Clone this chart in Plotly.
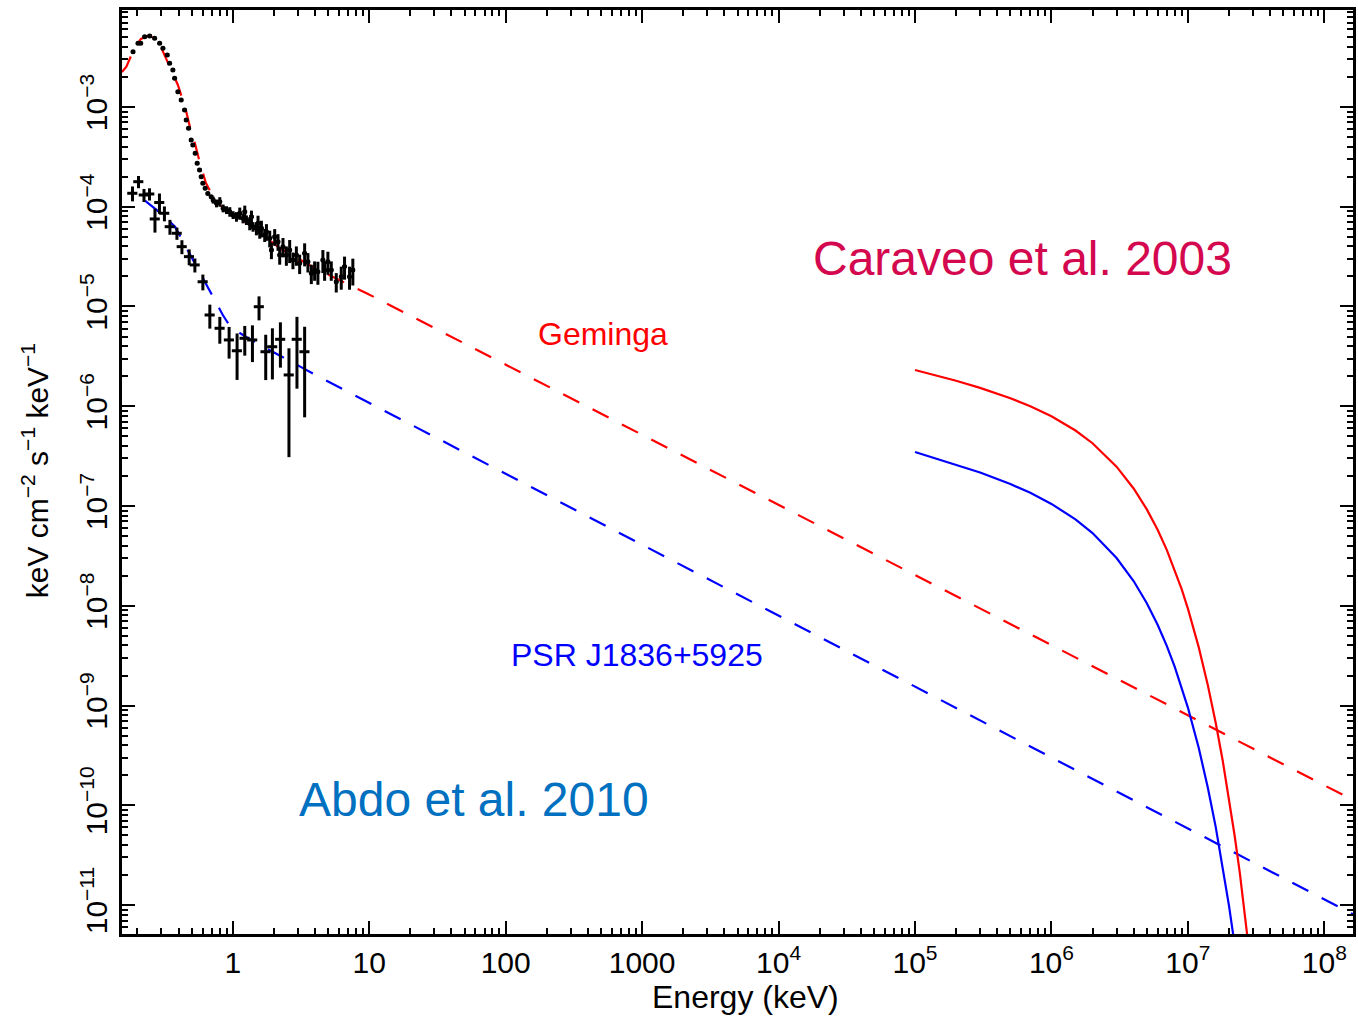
import plotly.graph_objects as go

# ---------------- data ----------------
# Geminga X-ray data points: energy (keV), flux, fractional error
gem_E = [0.1857, 0.2020, 0.2114, 0.2260, 0.2460, 0.2676, 0.2911, 0.3077, 0.3308, 0.3444,
         0.3641, 0.3748, 0.3961, 0.4185, 0.4434, 0.4556, 0.4743, 0.4955, 0.5100, 0.5301,
         0.5482, 0.5710, 0.5864, 0.6035, 0.6273, 0.6565, 0.6941,
         0.7178, 0.7600, 0.8033, 0.8494, 0.8994, 0.9508, 1.005, 1.064, 1.125, 1.189,
         1.224, 1.259, 1.331, 1.370, 1.407, 1.490, 1.531, 1.576, 1.621, 1.714,
         1.764, 1.865, 1.919, 2.028, 2.145, 2.207, 2.333, 2.470, 2.611, 2.760,
         2.923, 3.090, 3.362, 3.553, 3.763, 3.978, 4.205, 4.574, 4.708, 4.977,
         5.270, 5.732, 6.236, 6.592, 7.171, 7.583]
gem_F = [3.585e-3, 4.351e-3, 4.351e-3, 5.067e-3, 5.149e-3, 4.883e-3, 4.351e-3, 3.878e-3, 3.321e-3, 2.742e-3,
         2.349e-3, 1.940e-3, 1.423e-3, 1.175e-3, 9.33e-4, 7.41e-4, 6.12e-4, 4.67e-4, 4.16e-4, 3.43e-4,
         2.73e-4, 2.34e-4, 2.00e-4, 1.72e-4, 1.53e-4, 1.36e-4, 1.26e-4,
         1.169e-4, 1.083e-4, 1.123e-4, 9.65e-5, 9.28e-5, 8.92e-5, 8.27e-5, 7.95e-5, 8.60e-5, 7.66e-5,
         8.92e-5, 7.37e-5, 6.83e-5, 7.95e-5, 6.31e-5, 6.08e-5, 6.83e-5, 5.62e-5, 6.08e-5, 5.21e-5,
         5.62e-5, 4.83e-5, 3.68e-5, 5.01e-5, 4.46e-5, 3.28e-5, 3.98e-5, 3.28e-5, 3.68e-5, 2.92e-5,
         3.28e-5, 2.71e-5, 3.41e-5, 2.81e-5, 2.15e-5, 2.32e-5, 2.23e-5, 2.92e-5, 2.32e-5, 2.81e-5,
         2.32e-5, 1.77e-5, 1.99e-5, 2.51e-5, 1.99e-5, 2.32e-5]
gem_err = [0.04] * 27 + [
         0.08, 0.09, 0.11, 0.09, 0.09, 0.11, 0.09, 0.11, 0.14, 0.11,
         0.15, 0.11, 0.15, 0.15, 0.11, 0.15, 0.19, 0.15, 0.19, 0.15,
         0.19, 0.19, 0.19, 0.19, 0.19, 0.20, 0.22, 0.22, 0.26, 0.19,
         0.22, 0.22, 0.26, 0.22, 0.22, 0.22, 0.26, 0.26, 0.22, 0.26,
         0.22, 0.22, 0.26, 0.26, 0.26, 0.30]

# PSR J1836+5925 X-ray data points
psr_E = [0.1841, 0.2037, 0.2234, 0.2451, 0.2689, 0.2901, 0.3155, 0.3461, 0.3895, 0.4238,
         0.4791, 0.5274, 0.6035, 0.6789, 0.8033, 0.9396, 1.075, 1.224, 1.393, 1.557,
         1.743, 1.951, 2.233, 2.580, 2.953, 3.362]
psr_F = [1.364e-4, 1.783e-4, 1.311e-4, 1.342e-4, 7.54e-5, 1.103e-4, 8.60e-5, 6.31e-5, 5.42e-5, 3.98e-5,
         3.16e-5, 2.61e-5, 1.77e-5, 8.22e-6, 6.05e-6, 4.62e-6, 3.60e-6, 4.80e-6, 4.62e-6, 9.95e-6,
         3.52e-6, 3.95e-6, 4.69e-6, 2.06e-6, 4.69e-6, 3.52e-6]
psr_err = [0.17, 0.14, 0.15, 0.14, 0.27, 0.23, 0.17, 0.17, 0.14, 0.16,
           0.18, 0.16, 0.18, 0.27, 0.30, 0.35, 0.49, 0.33, 0.40, 0.27,
           0.48, 0.53, 0.48, 0.85, 0.68, 0.78]

# X-ray model (blackbody + power law), extended as dashed power law
gem_model_E = [0.154, 0.166, 0.189, 0.212, 0.239, 0.269, 0.297, 0.352, 0.396, 0.453,
               0.485, 0.527, 0.574, 0.635, 0.738, 0.918, 1.33, 2.21, 3.85, 7.18,
               9.55, 1.62e8]
gem_model_F = [2.24e-3, 2.54e-3, 3.81e-3, 4.81e-3, 5.15e-3, 4.92e-3, 4.00e-3, 2.35e-3, 1.66e-3, 9.33e-4,
               6.31e-4, 4.36e-4, 2.75e-4, 1.73e-4, 1.17e-4, 8.85e-5, 6.56e-5, 3.85e-5, 2.49e-5, 1.64e-5,
               1.36e-5, 1.13e-10]
psr_model_E = [0.227, 0.297, 0.377, 0.446, 0.527, 0.624, 0.715, 0.845, 0.951, 1.035,
               1.40, 2.52, 4.33, 1.62e8]
psr_model_F = [1.15e-4, 8.59e-5, 6.31e-5, 4.14e-5, 2.71e-5, 1.77e-5, 1.24e-5, 8.22e-6, 6.38e-6, 5.81e-6,
               4.51e-6, 2.91e-6, 1.96e-6, 8.09e-12]

# Fermi-LAT cutoff power-law spectra
gam_E = [1e5, 2e5, 3e5, 5e5, 7e5, 1e6, 1.5e6, 2e6, 3e6, 4e6, 5e6, 6e6, 7e6, 8e6, 9e6,
         1e7, 1.2e7, 1.4e7, 1.6e7, 1.8e7, 2e7, 2.2e7, 2.4e7, 2.6e7, 2.8e7, 3e7]
gem_gam_F = [2.307e-6, 1.799e-6, 1.528e-6, 1.205e-6, 1.0e-6, 7.94e-7, 5.71e-7, 4.26e-7, 2.48e-7, 1.50e-7,
             9.25e-8, 5.78e-8, 3.63e-8, 2.30e-8, 1.47e-8, 9.35e-9, 3.85e-9, 1.60e-9, 6.68e-10, 2.80e-10,
             1.18e-10, 4.98e-11, 2.11e-11, 8.93e-12, 3.80e-12, 1.62e-12]
psr_gam_F = [3.475e-7, 2.61e-7, 2.17e-7, 1.66e-7, 1.355e-7, 1.05e-7, 7.35e-8, 5.36e-8, 3.01e-8, 1.77e-8,
             1.06e-8, 6.46e-9, 3.96e-9, 2.45e-9, 1.53e-9, 9.55e-10, 3.77e-10, 1.50e-10, 6.04e-11, 2.44e-11,
             9.89e-12, 4.02e-12, 1.64e-12]

x_tickvals = [1, 10, 100, 1000, 1e4, 1e5, 1e6, 1e7, 1e8]
x_ticktext = ["1", "10", "100", "1000", "10<sup>4</sup>", "10<sup>5</sup>",
              "10<sup>6</sup>", "10<sup>7</sup>", "10<sup>8</sup>"]
y_tickvals = [1e-3, 1e-4, 1e-5, 1e-6, 1e-7, 1e-8, 1e-9, 1e-10, 1e-11]
y_ticktext = ["10<sup>\u22123</sup>", "10<sup>\u22124</sup>", "10<sup>\u22125</sup>",
              "10<sup>\u22126</sup>", "10<sup>\u22127</sup>", "10<sup>\u22128</sup>",
              "10<sup>\u22129</sup>", "10<sup>\u221210</sup>", "10<sup>\u221211</sup>"]

# ---------------- figure ----------------
FONT = "Liberation Sans, Arial, Helvetica, sans-serif"
RED = "#ff0000"
BLUE = "#0000ff"
DASH = "18px,15px"

fig = go.Figure()

fig.add_trace(go.Scatter(x=gem_model_E, y=gem_model_F, mode="lines",
                         line=dict(color=RED, width=2.2, dash=DASH), showlegend=False))
fig.add_trace(go.Scatter(x=psr_model_E, y=psr_model_F, mode="lines",
                         line=dict(color=BLUE, width=2.2, dash=DASH), showlegend=False))
fig.add_trace(go.Scatter(x=gam_E, y=gem_gam_F, mode="lines",
                         line=dict(color=RED, width=2.2), showlegend=False))
fig.add_trace(go.Scatter(x=gam_E[:len(psr_gam_F)], y=psr_gam_F, mode="lines",
                         line=dict(color=BLUE, width=2.2), showlegend=False))

fig.add_trace(go.Scatter(
    x=gem_E, y=gem_F, mode="markers",
    marker=dict(color="black", size=5),
    error_y=dict(type="data", symmetric=True, array=[f * e for f, e in zip(gem_F, gem_err)],
                 color="black", thickness=3, width=0),
    error_x=dict(type="percent", value=3.5, color="black", thickness=3, width=0),
    showlegend=False))

fig.add_trace(go.Scatter(
    x=psr_E, y=psr_F, mode="markers",
    marker=dict(color="black", size=2),
    error_y=dict(type="data", symmetric=True, array=[f * e for f, e in zip(psr_F, psr_err)],
                 color="black", thickness=3, width=0),
    error_x=dict(type="percent", value=8.5, color="black", thickness=3, width=0),
    showlegend=False))

L, R, T, B = 122, 2, 10, 82
W, H = 1358, 1016
pw, ph = W - L - R, H - T - B


def px(xp):
    return (xp - L) / pw


def py(yp):
    return (H - B - yp) / ph


axis_common = dict(
    showline=True, linewidth=3, linecolor="black", mirror="allticks",
    ticks="inside", ticklen=13, tickwidth=2, tickcolor="black",
    showgrid=False, zeroline=False,
    tickfont=dict(family=FONT, size=30, color="black"),
    minor=dict(ticks="inside", ticklen=6, tickwidth=2, tickcolor="black", showgrid=False,
               dtick="D1"),
)

fig.update_xaxes(type="log", range=[-0.812, 8.21], tickvals=x_tickvals, ticktext=x_ticktext,
                 **axis_common)
fig.update_yaxes(type="log", range=[-11.29, -2.028], tickvals=y_tickvals, ticktext=y_ticktext,
                 tickangle=-90, **axis_common)

annots = [
    dict(text="Caraveo et al. 2003", x=px(1025), y=py(258), color="#d4084e", size=48),
    dict(text="Abdo et al. 2010", x=px(475), y=py(799), color="#0070c0", size=48),
    dict(text="Geminga", x=px(604), y=py(334), color=RED, size=32),
    dict(text="PSR J1836+5925", x=px(638), y=py(655), color=BLUE, size=32),
    dict(text="Energy (keV)", x=px(747), y=py(997), color="black", size=32),
]
for a in annots:
    fig.add_annotation(text=a["text"], x=a["x"], y=a["y"], xref="paper", yref="paper",
                       xanchor="center", yanchor="middle", showarrow=False,
                       font=dict(family=FONT, size=a["size"], color=a["color"]))
fig.add_annotation(text="keV cm<sup>\u22122</sup> s<sup>\u22121</sup> keV<sup>\u22121</sup>",
                   x=px(35), y=py(471), xref="paper", yref="paper", textangle=-90,
                   xanchor="center", yanchor="middle", showarrow=False,
                   font=dict(family=FONT, size=30, color="black"))

fig.update_layout(
    width=W, height=H,
    margin=dict(l=L, r=R, t=T, b=B, pad=0),
    paper_bgcolor="white", plot_bgcolor="white",
    font=dict(family=FONT, color="black"),
    showlegend=False,
)

fig.write_html("out.html")
